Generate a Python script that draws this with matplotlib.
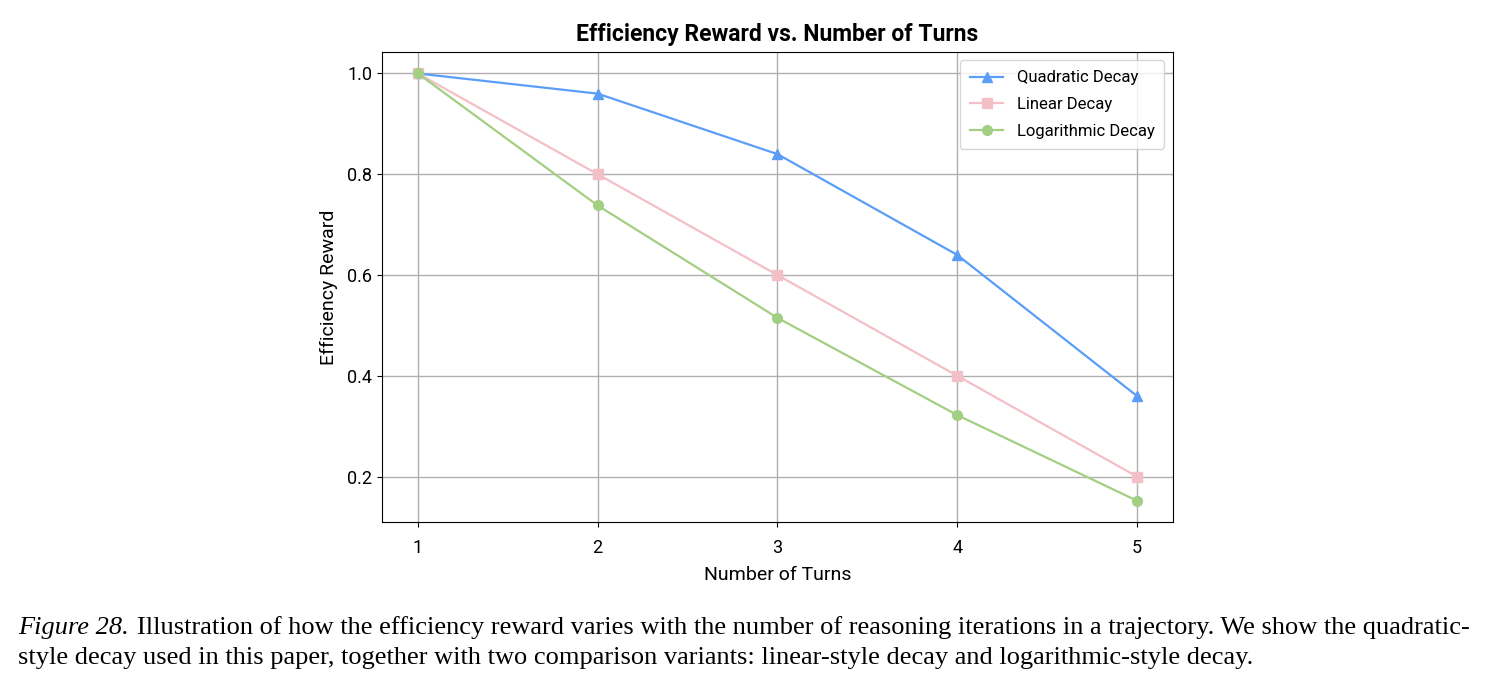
import matplotlib
matplotlib.use('Agg')
import matplotlib.pyplot as plt

turns = [1, 2, 3, 4, 5]
quadratic = [1.0, 0.96, 0.84, 0.64, 0.36]
linear = [1.0, 0.8, 0.6, 0.4, 0.2]
logarithmic = [1.0, 0.738, 0.515, 0.322, 0.152]

plt.rcParams['font.family'] = ['Roboto', 'DejaVu Sans']

fig = plt.figure(figsize=(14.95, 6.86), dpi=100)
ax = fig.add_axes([0.2555, 0.239, 0.529, 0.685])

ax.plot(turns, quadratic, marker='^', color='#5a9ef8', markersize=7, linewidth=1.6, label='Quadratic Decay')
ax.plot(turns, linear, marker='s', color='#f2c0c6', markersize=7, linewidth=1.6, label='Linear Decay')
ax.plot(turns, logarithmic, marker='o', color='#a3cf82', markersize=7, linewidth=1.6, label='Logarithmic Decay')

ax.set_xticks(turns)
ax.set_yticks([0.2, 0.4, 0.6, 0.8, 1.0])
ax.grid(True, color='#b0b0b0', linewidth=1)
ax.tick_params(labelsize=13)
ax.tick_params(axis='x', pad=9)
ax.set_xlabel('Number of Turns', fontsize=14, labelpad=6)
ax.set_ylabel('Efficiency Reward', fontsize=14, labelpad=7)
ax.set_title('Efficiency Reward vs. Number of Turns', fontsize=16.5, fontweight='bold', pad=8)
ax.legend(loc='upper right', fontsize=12, labelspacing=0.7, borderpad=0.6)

cap1 = 'Illustration of how the efficiency reward varies with the number of reasoning iterations in a trajectory. We show the quadratic-'
cap2 = 'style decay used in this paper, together with two comparison variants: linear-style decay and logarithmic-style decay.'
y1 = 1 - 628 / 686
y2 = 1 - 658 / 686
t0 = fig.text(0.012, y1, 'Figure 28.', fontsize=19, family='Liberation Serif', style='italic', va='center')
r = fig.canvas.get_renderer()
bb = t0.get_window_extent(renderer=r)
x1 = (bb.x1 + 8) / fig.bbox.width
fig.text(x1, y1, cap1, fontsize=19, family='Liberation Serif', va='center')
fig.text(0.012, y2, cap2, fontsize=19, family='Liberation Serif', va='center')

fig.savefig('out.png', dpi=100)
